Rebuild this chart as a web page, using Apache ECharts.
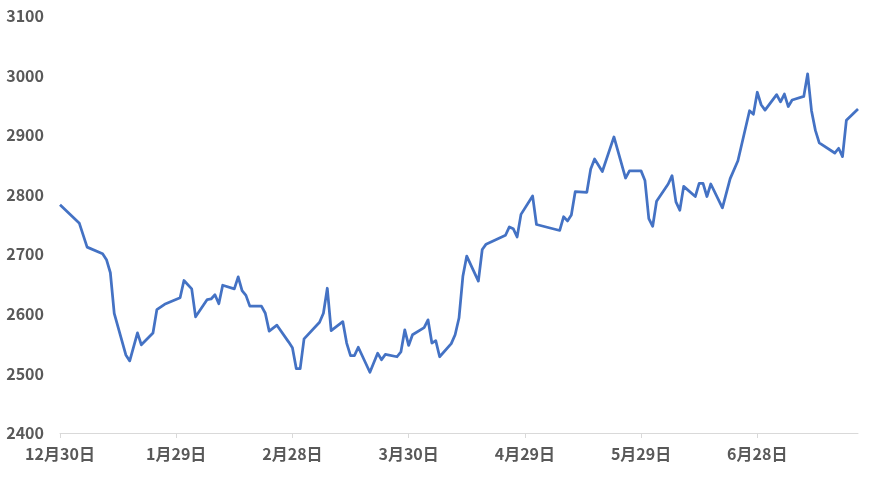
<!DOCTYPE html>
<html>
<head>
<meta charset="utf-8">
<script src="https://cdn.jsdelivr.net/npm/echarts@6/dist/echarts.min.js"></script>
<style>
html,body{margin:0;padding:0;background:#fff;}
#chart{width:870px;height:477px;}
</style>
</head>
<body>
<div id="chart"></div>
<script>
// Dates of the data points (trading days)
const dates = [
 "2022-12-30","2023-01-04","2023-01-06","2023-01-10","2023-01-11","2023-01-12","2023-01-13",
 "2023-01-16","2023-01-17","2023-01-19","2023-01-20","2023-01-23","2023-01-24","2023-01-26",
 "2023-01-30","2023-01-31","2023-02-02","2023-02-03","2023-02-06","2023-02-07","2023-02-08",
 "2023-02-09","2023-02-10","2023-02-13","2023-02-14","2023-02-15","2023-02-16","2023-02-17",
 "2023-02-20","2023-02-21","2023-02-22","2023-02-24","2023-02-27","2023-02-28","2023-03-01",
 "2023-03-02","2023-03-03","2023-03-07","2023-03-08","2023-03-09","2023-03-10","2023-03-13",
 "2023-03-14","2023-03-15","2023-03-16","2023-03-17","2023-03-20","2023-03-22","2023-03-23",
 "2023-03-24","2023-03-27","2023-03-28","2023-03-29","2023-03-30","2023-03-31","2023-04-03",
 "2023-04-04","2023-04-05","2023-04-06","2023-04-07","2023-04-10","2023-04-11","2023-04-12",
 "2023-04-13","2023-04-14","2023-04-17","2023-04-18","2023-04-19","2023-04-24","2023-04-25",
 "2023-04-26","2023-04-27","2023-04-28","2023-05-01","2023-05-02","2023-05-08","2023-05-09",
 "2023-05-10","2023-05-11","2023-05-12","2023-05-15","2023-05-16","2023-05-17","2023-05-19",
 "2023-05-22","2023-05-25","2023-05-26","2023-05-29","2023-05-30","2023-05-31","2023-06-01",
 "2023-06-02","2023-06-05","2023-06-06","2023-06-07","2023-06-08","2023-06-09","2023-06-12",
 "2023-06-13","2023-06-14","2023-06-15","2023-06-16","2023-06-19","2023-06-21","2023-06-23",
 "2023-06-26","2023-06-27","2023-06-28","2023-06-29","2023-06-30","2023-07-03","2023-07-04",
 "2023-07-05","2023-07-06","2023-07-07","2023-07-10","2023-07-11","2023-07-12","2023-07-13",
 "2023-07-14","2023-07-18","2023-07-19","2023-07-20","2023-07-21","2023-07-24"
];
// Values
const values = [
 2783,2752,2712,2701,2691,2669,2601,
 2531,2521,2568,2548,2568,2607,2616,
 2627,2656,2642,2595,2624,2625,2632,
 2617,2648,2642,2662,2639,2631,2613,
 2613,2601,2571,2581,2553,2543,2508,
 2508,2558,2586,2601,2643,2572,2587,
 2551,2530,2530,2544,2502,2534,2523,
 2532,2528,2536,2573,2547,2565,2577,
 2590,2551,2555,2528,2550,2565,2593,
 2663,2697,2655,2708,2717,2732,2746,
 2743,2729,2767,2798,2750,2740,2763,
 2756,2766,2805,2804,2843,2860,2839,
 2897,2828,2840,2840,2824,2760,2747,
 2789,2818,2832,2788,2774,2814,2797,
 2819,2819,2797,2818,2778,2827,2857,
 2941,2935,2972,2951,2942,2968,2956,
 2969,2948,2959,2965,3003,2941,2908,
 2887,2870,2878,2864,2925,2944
];
// Axis settings
const startDate = "2022-12-30";
const endDate = "2023-07-24";
const yTicks = [2400, 2500, 2600, 2700, 2800, 2900, 3000, 3100];
const xTickStepDays = 30;

const DAY = 86400000;
function dayOffset(s) {
  const p = s.split('-').map(Number);
  const q = startDate.split('-').map(Number);
  return Math.round((Date.UTC(p[0], p[1]-1, p[2]) - Date.UTC(q[0], q[1]-1, q[2])) / DAY);
}
const maxDay = dayOffset(endDate);
const xTickValues = [];
for (let d = 0; d <= maxDay; d += xTickStepDays) xTickValues.push(d);

function dayLabel(d) {
  const q = startDate.split('-').map(Number);
  const dt = new Date(Date.UTC(q[0], q[1]-1, q[2]) + d * DAY);
  return (dt.getUTCMonth() + 1) + '月' + dt.getUTCDate() + '日';
}

const seriesData = dates.map((s, i) => [dayOffset(s), values[i]]);
const labelFont = '"Noto Sans CJK JP", "Noto Sans", sans-serif';

const chart = echarts.init(document.getElementById('chart'), null, {renderer: 'canvas'});
chart.setOption({
  animation: false,
  backgroundColor: '#ffffff',
  grid: {left: 60, right: 12, top: 16, bottom: 44, containLabel: false},
  xAxis: {
    type: 'value',
    min: 0,
    max: maxDay,
    interval: xTickStepDays,
    splitLine: {show: false},
    axisLine: {show: true, lineStyle: {color: '#d9d9d9', width: 1}},
    axisTick: {show: true, length: 5, lineStyle: {color: '#d9d9d9'}, customValues: xTickValues},
    axisLabel: {
      customValues: xTickValues,
      formatter: v => dayLabel(v),
      color: '#595959',
      fontSize: 16,
      fontWeight: 'bold',
      fontFamily: labelFont,
      margin: 13
    }
  },
  yAxis: {
    type: 'value',
    min: yTicks[0],
    max: yTicks[yTicks.length - 1],
    interval: 100,
    splitLine: {show: false},
    axisLine: {show: false},
    axisTick: {show: false},
    axisLabel: {
      customValues: yTicks,
      formatter: v => String(v),
      color: '#595959',
      fontSize: 16,
      fontWeight: 'bold',
      fontFamily: labelFont,
      margin: 16
    }
  },
  series: [{
    type: 'line',
    data: seriesData,
    showSymbol: false,
    symbol: 'none',
    lineStyle: {color: '#4472C4', width: 2.75, join: 'round'},
    itemStyle: {color: '#4472C4'}
  }]
});
</script>
</body>
</html>
